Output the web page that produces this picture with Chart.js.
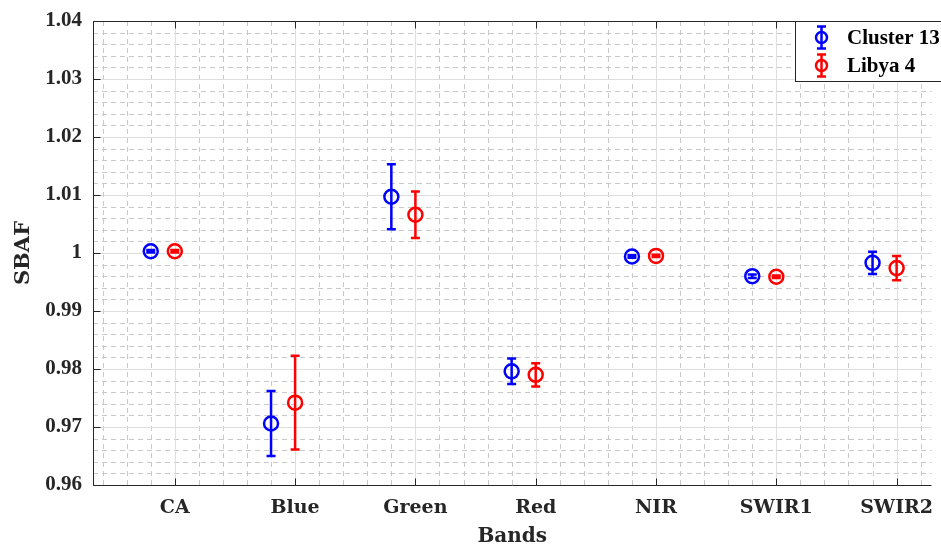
<!DOCTYPE html>
<html>
<head>
<meta charset="utf-8">
<script src="https://cdn.jsdelivr.net/npm/chart.js@4.4.1/dist/chart.umd.min.js"></script>
<style>
  html, body { margin: 0; padding: 0; background: #fff; }
  #wrap { width: 941px; height: 550px; }
</style>
</head>
<body>
<div id="wrap"><canvas id="sbafChart"></canvas></div>
<script>
// values
const bands = ['CA', 'Blue', 'Green', 'Red', 'NIR', 'SWIR1', 'SWIR2'];
const cluster13 = [1.0003, 0.9706, 1.0097, 0.9796, 0.9994, 0.9960, 0.9983];
const cluster13Err = [0.0002, 0.0056, 0.0056, 0.0022, 0.0002, 0.0003, 0.0019];
const libya4 = [1.0003, 0.9742, 1.0066, 0.9790, 0.9995, 0.9959, 0.9974];
const libya4Err = [0.0002, 0.0081, 0.0040, 0.0020, 0.0002, 0.0002, 0.0021];
const yTicks = [0.96, 0.97, 0.98, 0.99, 1.00, 1.01, 1.02, 1.03, 1.04];
const yTickLabels = ['0.96', '0.97', '0.98', '0.99', '1', '1.01', '1.02', '1.03', '1.04'];

const AXIS = '#262626';
const wordFont = 'DejaVu Serif';
const numFont = 'Liberation Serif';

// MATLAB-like box, grid and inward ticks
const gridBox = {
    id: 'gridBox',
    beforeDatasetsDraw(chart) {
        const { ctx, chartArea: a, scales: { x, y } } = chart;
        ctx.save();
        ctx.lineWidth = 1;
        // minor grid (dashed)
        ctx.strokeStyle = '#c9c9c9';
        ctx.setLineDash([5, 4]);
        for (let k = 2; k <= 36; k++) {
            const v = k / 5;
            if (k % 5 === 0) continue;
            const px = Math.round(x.getPixelForValue(v)) + 0.5;
            if (px < a.left || px > a.right) continue;
            ctx.beginPath(); ctx.moveTo(px, a.top); ctx.lineTo(px, a.bottom); ctx.stroke();
        }
        for (let k = 0; k <= 40; k++) {
            if (k % 5 === 0) continue;
            const py = Math.round(y.getPixelForValue(0.96 + k * 0.002)) + 0.5;
            ctx.beginPath(); ctx.moveTo(a.left, py); ctx.lineTo(a.right, py); ctx.stroke();
        }
        // major grid (solid)
        ctx.setLineDash([]);
        ctx.strokeStyle = '#dedede';
        bands.forEach((b, i) => {
            const px = Math.round(x.getPixelForValue(i + 1)) + 0.5;
            ctx.beginPath(); ctx.moveTo(px, a.top); ctx.lineTo(px, a.bottom); ctx.stroke();
        });
        yTicks.forEach(v => {
            const py = Math.round(y.getPixelForValue(v)) + 0.5;
            ctx.beginPath(); ctx.moveTo(a.left, py); ctx.lineTo(a.right, py); ctx.stroke();
        });
        // box + ticks
        ctx.strokeStyle = AXIS;
        const L = Math.round(a.left) + 0.5, T = Math.round(a.top) + 0.5, B = Math.round(a.bottom) + 0.5;
        ctx.beginPath();
        ctx.moveTo(a.right, T); ctx.lineTo(L, T); ctx.lineTo(L, B); ctx.lineTo(a.right, B);
        ctx.stroke();
        yTicks.forEach(v => {
            const py = Math.round(y.getPixelForValue(v)) + 0.5;
            ctx.beginPath(); ctx.moveTo(L, py); ctx.lineTo(L + 7, py); ctx.stroke();
        });
        bands.forEach((b, i) => {
            const px = Math.round(x.getPixelForValue(i + 1)) + 0.5;
            ctx.beginPath(); ctx.moveTo(px, B); ctx.lineTo(px, B - 7); ctx.stroke();
            ctx.beginPath(); ctx.moveTo(px, T); ctx.lineTo(px, T + 7); ctx.stroke();
        });
        ctx.restore();
    }
};

function drawErrBar(ctx, px, yTop, yBot, color) {
    ctx.strokeStyle = color;
    ctx.lineWidth = 2.5;
    ctx.beginPath();
    ctx.moveTo(px, yTop); ctx.lineTo(px, yBot);
    ctx.moveTo(px - 4.5, yTop); ctx.lineTo(px + 4.5, yTop);
    ctx.moveTo(px - 4.5, yBot); ctx.lineTo(px + 4.5, yBot);
    ctx.stroke();
}

const errorBars = {
    id: 'errorBars',
    afterDatasetsDraw(chart) {
        const { ctx, scales: { x, y } } = chart;
        ctx.save();
        chart.data.datasets.forEach(ds => {
            ds.data.forEach((p, i) => {
                const px = x.getPixelForValue(p.x);
                drawErrBar(ctx, px, y.getPixelForValue(p.y + ds.err[i]), y.getPixelForValue(p.y - ds.err[i]), ds.borderColor);
            });
        });
        ctx.restore();
    }
};

const legendBox = {
    id: 'legendBox',
    afterDraw(chart) {
        const { ctx, chartArea: a } = chart;
        const left = 795.5, top = Math.round(a.top) + 0.5, w = 146, h = 60;
        ctx.save();
        ctx.fillStyle = '#fff';
        ctx.fillRect(left, top, w, h);
        ctx.strokeStyle = AXIS;
        ctx.lineWidth = 1;
        ctx.strokeRect(left, top, w, h);
        chart.data.datasets.forEach((ds, i) => {
            const cy = top + 16 + i * 28;
            const gx = 821.5;
            drawErrBar(ctx, gx, cy - 11, cy + 11, ds.borderColor);
            ctx.lineWidth = 2.5;
            ctx.beginPath(); ctx.arc(gx, cy, 5.5, 0, Math.PI * 2); ctx.stroke();
            ctx.fillStyle = '#000';
            ctx.font = 'bold 21px "' + numFont + '"';
            ctx.textBaseline = 'middle';
            ctx.fillText(ds.label, 847, cy + 1);
        });
        ctx.restore();
    }
};

const ctx = document.getElementById('sbafChart').getContext('2d');

new Chart(ctx, {
    type: 'scatter',
    data: {
        datasets: [{
            label: 'Cluster 13',
            data: cluster13.map((v, i) => ({ x: i + 1 - 0.2, y: v })),
            err: cluster13Err,
            borderColor: '#0000ff',
            backgroundColor: 'rgba(0,0,0,0)',
            pointRadius: 7,
            pointBorderWidth: 2.5
        }, {
            label: 'Libya 4',
            data: libya4.map((v, i) => ({ x: i + 1, y: v })),
            err: libya4Err,
            borderColor: '#ff0000',
            backgroundColor: 'rgba(0,0,0,0)',
            pointRadius: 7,
            pointBorderWidth: 2.5
        }]
    },
    options: {
        responsive: true,
        maintainAspectRatio: false,
        animation: false,
        events: [],
        layout: { padding: { top: 21, right: 0, bottom: 1, left: 11 } },
        scales: {
            x: {
                type: 'linear',
                min: 0.32,
                max: 7.29,
                grid: { display: false },
                border: { display: false },
                afterBuildTicks: s => { s.ticks = bands.map((b, i) => ({ value: i + 1 })); },
                afterFit: s => { s.height = 64; },
                ticks: {
                    autoSkip: false,
                    maxRotation: 0,
                    padding: 4,
                    color: '#262626',
                    font: { family: wordFont, weight: 'bold', size: 19 },
                    callback: v => bands[Math.round(v) - 1]
                },
                title: {
                    display: true,
                    text: 'Bands',
                    color: '#262626',
                    padding: 0,
                    font: { family: wordFont, weight: 'bold', size: 20 }
                }
            },
            y: {
                min: 0.96,
                max: 1.04,
                grid: { display: false },
                border: { display: false },
                afterBuildTicks: s => { s.ticks = yTicks.map(v => ({ value: v })); },
                afterFit: s => { s.width = 82; },
                ticks: {
                    padding: 3,
                    color: '#262626',
                    font: { family: numFont, weight: 'bold', size: 21 },
                    callback: (v, i) => yTickLabels[i]
                },
                title: {
                    display: true,
                    text: 'SBAF',
                    color: '#262626',
                    padding: 0,
                    font: { family: wordFont, weight: 'bold', size: 21 }
                }
            }
        },
        plugins: {
            legend: { display: false },
            tooltip: { enabled: false }
        }
    },
    plugins: [gridBox, errorBars, legendBox]
});
</script>
</body>
</html>
